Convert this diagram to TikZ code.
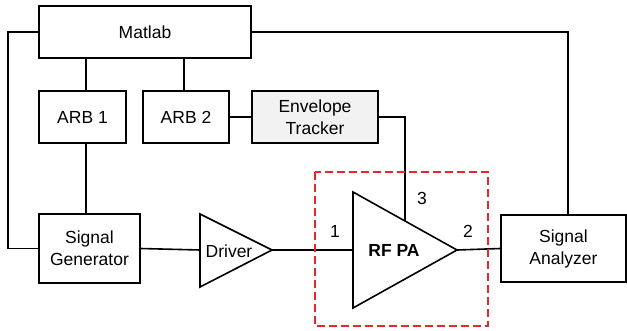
\documentclass[tikz,border=0pt]{standalone}
\usepackage{fontspec}
\setmainfont{Liberation Sans}
\definecolor{etfill}{HTML}{F2F2F2}
\definecolor{dashred}{HTML}{E8262B}
\begin{document}
\begin{tikzpicture}[x=1pt,y=-1pt,
  box/.style={draw, line width=1.6pt, align=center, inner sep=0pt, font=\fontsize{17.5}{22}\selectfont},
  lbl/.style={font=\fontsize{17.5}{22}\selectfont, inner sep=0pt},
  wire/.style={line width=1.6pt},
  amp/.style={draw, line width=1.6pt, line join=miter},
  group/.style={draw=dashred, line width=1.3pt, dash pattern=on 8pt off 4pt}]
\useasboundingbox (0,0) rectangle (627,330);
% boxes
\node[box, minimum width=212pt, minimum height=52pt] (matlab) at (145,32) {Matlab};
\node[box, minimum width=87pt, minimum height=52pt] (arb1) at (82.5,117) {ARB 1};
\node[box, minimum width=86pt, minimum height=52pt] (arb2) at (186,117) {ARB 2};
\node[box, fill=etfill, minimum width=126pt, minimum height=52pt] (et) at (315,117) {Envelope\\Tracker};
\node[box, minimum width=101pt, minimum height=69pt] (sg) at (89.5,248.5) {Signal\\Generator};
\node[box, minimum width=125pt, minimum height=67pt] (sa) at (563.5,248.5) {Signal\\Analyzer};
% driver triangle
\coordinate (dA) at (200,214);
\coordinate (dB) at (200,287);
\coordinate (dT) at (272,250);
\coordinate (dIn) at (200,250);
\draw[amp] (dA) -- (dT) -- (dB) -- cycle;
\node[lbl] (drv) at (229,251) {Driver};
% RF PA triangle
\coordinate (pA) at (353,192);
\coordinate (pB) at (353,308);
\coordinate (pT) at (457,250);
\coordinate (pIn) at (353,250);
\coordinate (p3) at (405,221);
\draw[amp] (pA) -- (pT) -- (pB) -- cycle;
\node[lbl, font=\fontsize{17.5}{22}\selectfont\bfseries] (rfpa) at (394,250) {RF PA};
\node[lbl] (n1) at (335,231) {1};
\node[lbl] (n3) at (422,198) {3};
\node[lbl] (n2) at (468,231) {2};
% helper x positions
\coordinate (x1) at (86,0);
\coordinate (x2) at (184,0);
\coordinate (xl) at (8,0);
\coordinate (xe) at (405,0);
\coordinate (xr) at (568,0);
% connectors
\draw[wire] (matlab.west) -- (matlab.west -| xl) |- (sg.west);
\draw[wire] (matlab.south -| x1) -- (arb1.north -| x1);
\draw[wire] (arb1.south -| x1) -- (sg.north -| x1);
\draw[wire] (matlab.south -| x2) -- (arb2.north -| x2);
\draw[wire] (arb2.east) -- (et.west);
\draw[wire] (et.east) -- (et.east -| xe) -- (p3);
\draw[wire] (matlab.east) -- (matlab.east -| xr) -- (sa.north -| xr);
\draw[wire] (sg.east) -- (dIn);
\draw[wire] (dT) -- (pIn);
\draw[wire] (pT) -- (sa.west);
% dashed group
\draw[group] (315,172) rectangle (488,326);
\end{tikzpicture}
\end{document}
